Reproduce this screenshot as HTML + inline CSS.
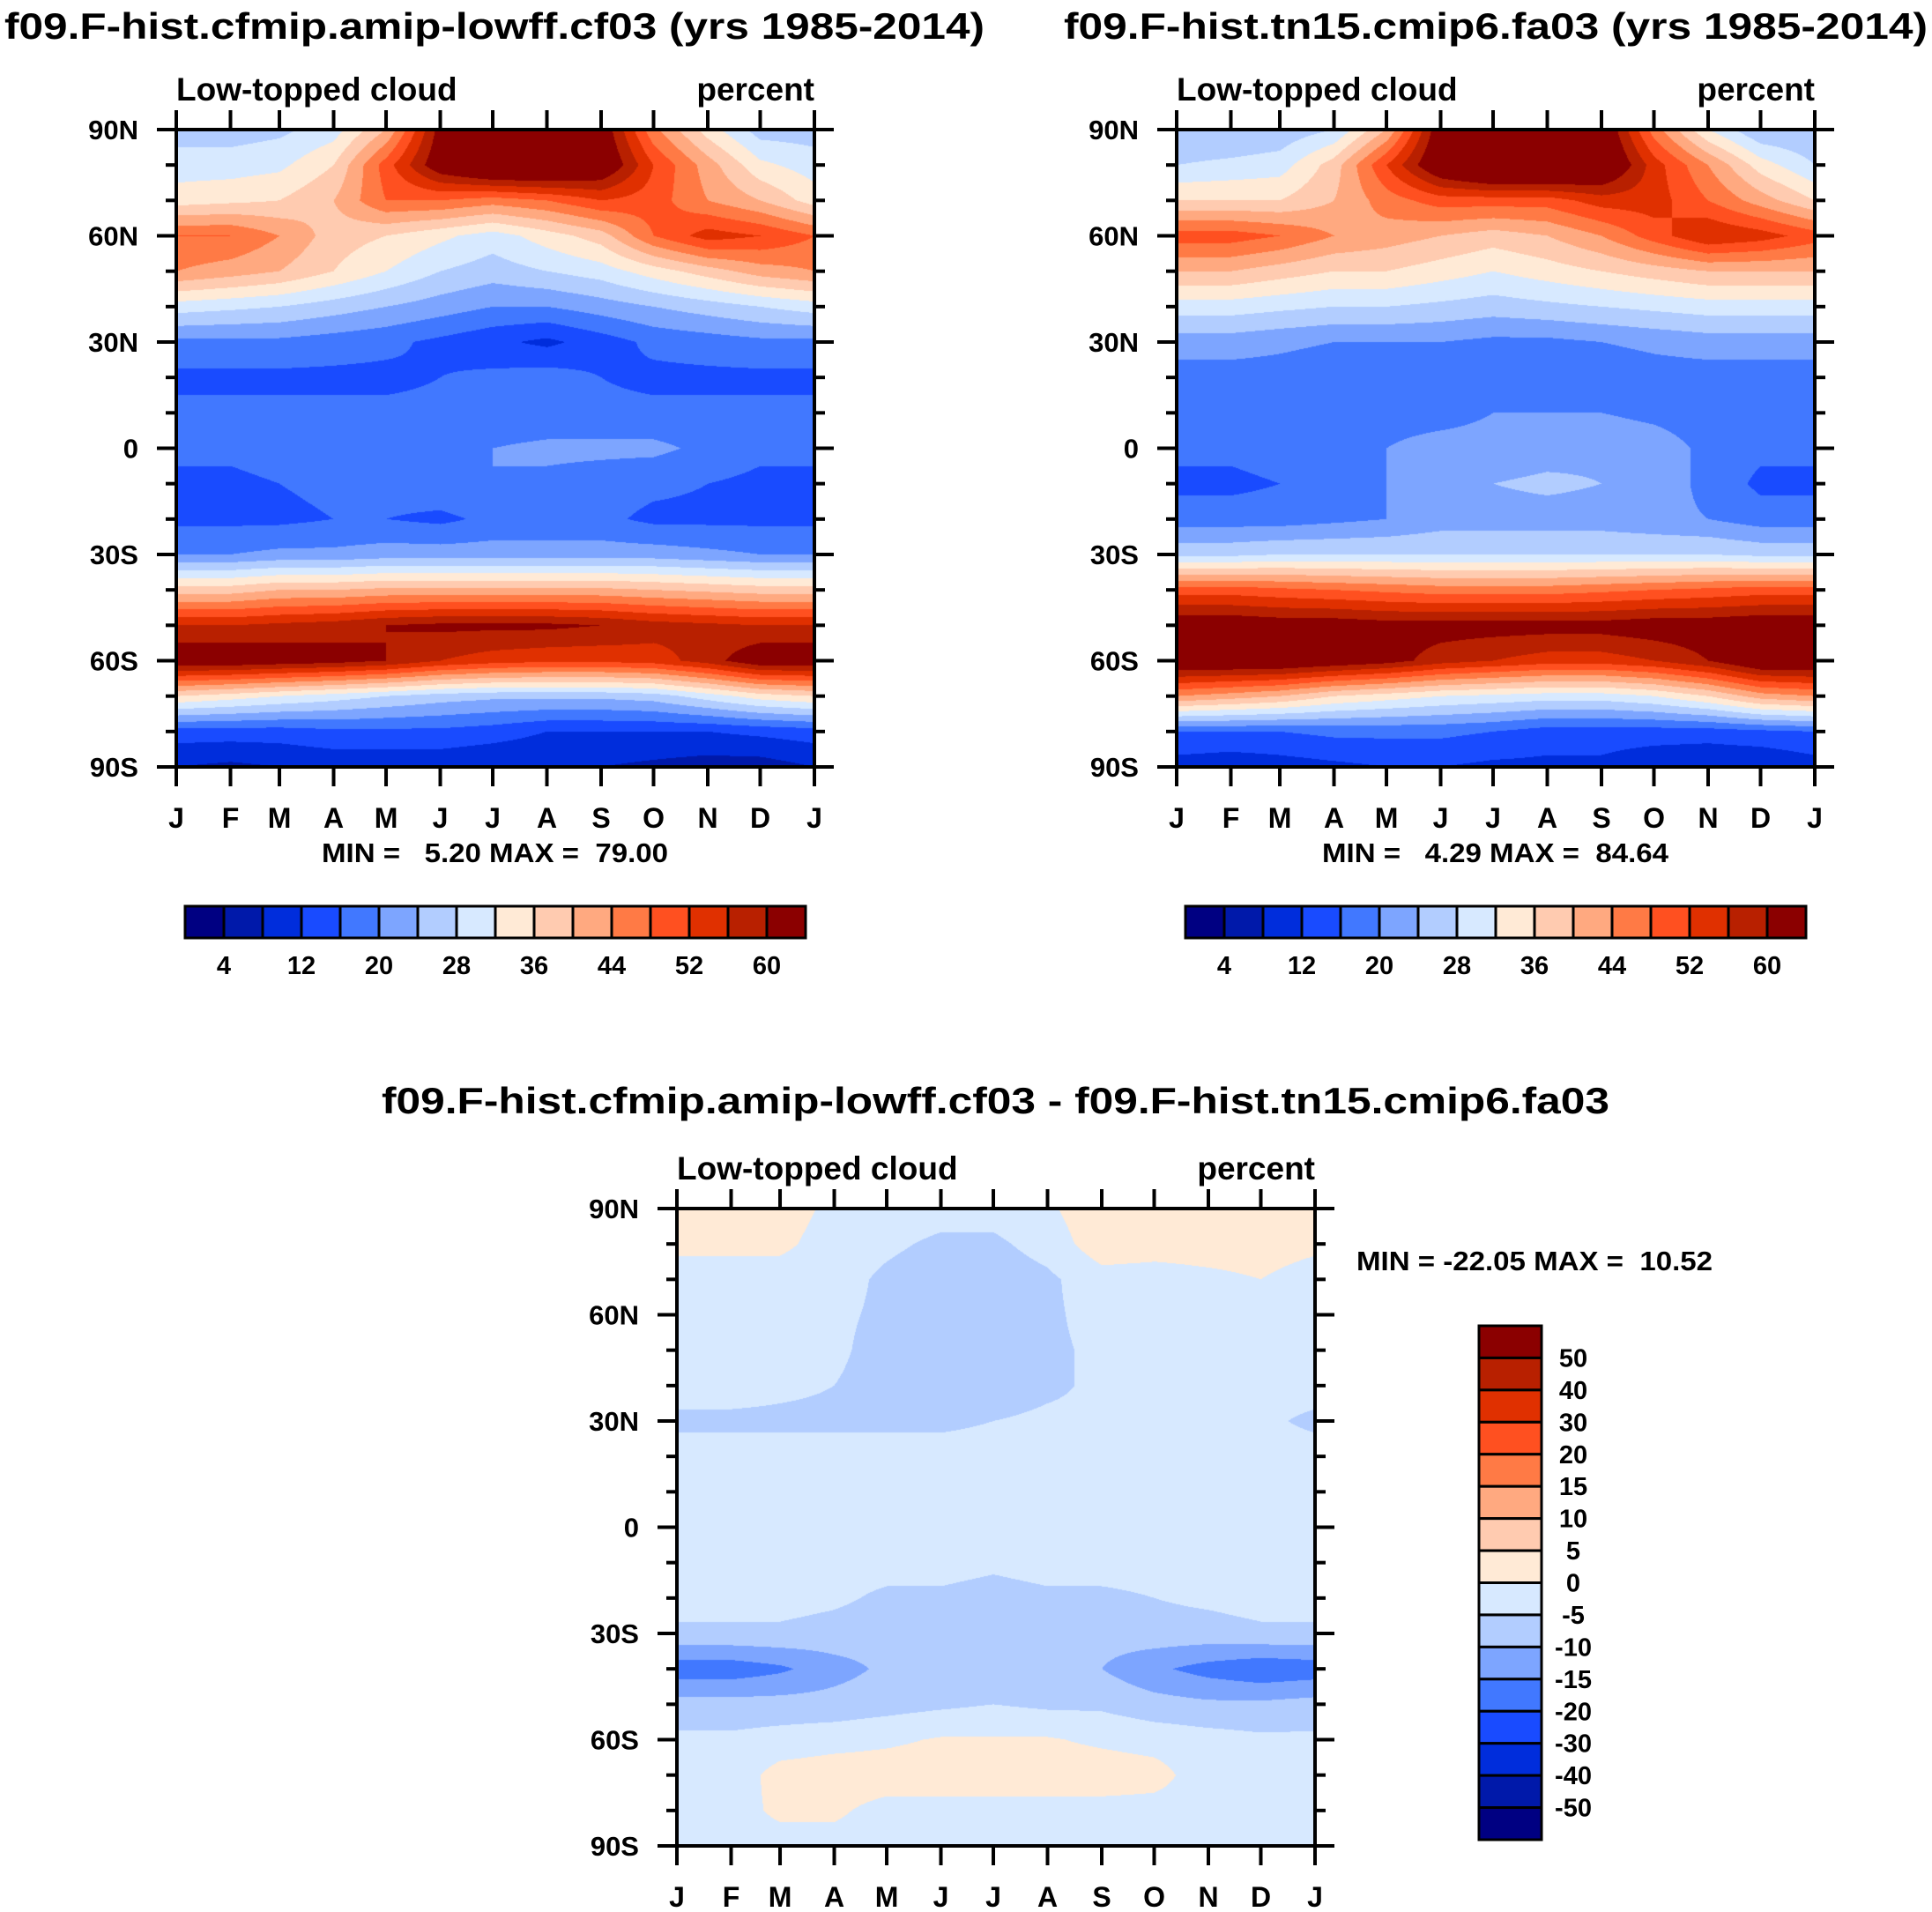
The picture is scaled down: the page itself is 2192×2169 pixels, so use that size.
<!DOCTYPE html>
<html><head><meta charset="utf-8">
<style>
html,body{margin:0;padding:0;background:#fff;}
#root{position:relative;width:2192px;height:2169px;overflow:hidden;}
canvas{position:absolute;}
svg{position:absolute;left:0;top:0;}
text{font-family:"Liberation Sans",sans-serif;font-weight:bold;fill:#000;}
</style></head>
<body>
<div id="root">
<canvas id="c1" width="724" height="723" style="left:200px;top:147px"></canvas>
<canvas id="c2" width="724" height="723" style="left:1335px;top:147px"></canvas>
<canvas id="c3" width="724" height="723" style="left:768px;top:1371px"></canvas>
<svg id="svg" width="2192" height="2169">
<text x="5" y="44" font-size="42" textLength="1112" lengthAdjust="spacingAndGlyphs">f09.F-hist.cfmip.amip-lowff.cf03 (yrs 1985-2014)</text>
<text x="1207" y="44" font-size="42" textLength="980" lengthAdjust="spacingAndGlyphs">f09.F-hist.tn15.cmip6.fa03 (yrs 1985-2014)</text>
<text x="433" y="1263" font-size="42" textLength="1393" lengthAdjust="spacingAndGlyphs">f09.F-hist.cfmip.amip-lowff.cf03 - f09.F-hist.tn15.cmip6.fa03</text>
<text x="365" y="978" font-size="31" textLength="393" lengthAdjust="spacingAndGlyphs" xml:space="preserve">MIN =   5.20 MAX =  79.00</text>
<text x="1500" y="978" font-size="31" textLength="393" lengthAdjust="spacingAndGlyphs" xml:space="preserve">MIN =   4.29 MAX =  84.64</text>
<text x="1539" y="1441" font-size="31" textLength="404" lengthAdjust="spacingAndGlyphs" xml:space="preserve">MIN = -22.05 MAX =  10.52</text>
</svg>
</div>
<script>
// ---- data: rows are latitudes 90N..90S (10 deg), columns are months J..J (13 ticks)
const months = ['J','F','M','A','M','J','J','A','S','O','N','D','J'];
const latLabels = ['90N','60N','30N','0','30S','60S','90S'];
const levels1 = [4,8,12,16,20,24,28,32,36,40,44,48,52,56,60];
const levels1Labels = ['4','12','20','28','36','44','52','60'];
const levelsDiff = [-50,-40,-30,-20,-15,-10,-5,0,5,10,15,20,30,40,50];
const cf03 = [
 [26,26,27,30,40,62,64,64,64,45,34,26,26],
 [30,30,31,36,50,64,70,70,66,52,42,33,30],
 [34,35,36,40,48,48,46,48,52,50,44,40,34],
 [48,48,44,38,36,33,30,34,38,48,54,52,48],
 [44,42,40,36,32,28,26,28,30,34,38,42,44],
 [30,29,28,26,24,22,20,20,22,24,26,28,30],
 [19,19,19,18,17,15,13,11,14,17,18,19,19],
 [15,15,15,15,15,16,17,18,16,15,15,15,15],
 [17,17,17,17,17,17,17,17,17,17,17,17,17],
 [17,17,18,18,18,19,20,21,21,21,19,17,17],
 [15,15,16,17,18,19,20,19,18,17,16,15,15],
 [15,15,15,16,16,15,17,17,17,15,15,15,15],
 [20,20,21,21,22,22,22,22,22,22,21,20,20],
 [38,38,40,40,41,41,41,41,41,40,39,38,38],
 [56,56,57,58,60,61,61,61,60,58,57,56,56],
 [64,64,63,62,60,56,54,53,53,54,58,64,64],
 [36,34,32,30,28,26,25,25,25,26,30,34,36],
 [14,14,14,15,15,15,14,12,12,12,12,13,14],
 [8,7,8,9,9,9,8,8,8,7,6,6,8]
];
const fa03 = [
 [24,24,25,28,40,64,68,68,66,46,32,24,24],
 [28,29,30,38,52,66,72,72,68,54,44,34,28],
 [36,36,36,40,46,50,50,50,54,54,48,42,36],
 [50,50,48,44,42,40,38,40,44,50,56,54,50],
 [40,40,38,36,36,34,32,34,36,38,40,40,40],
 [30,30,29,28,28,27,26,27,28,29,30,30,30],
 [22,22,21,20,20,20,19,19,20,21,22,22,22],
 [18,18,18,17,17,16,16,16,17,18,18,18,18],
 [18,18,18,19,19,19,20,20,20,19,18,18,18],
 [17,17,18,19,20,21,21,22,23,22,19,17,17],
 [15,15,16,18,20,22,24,25,24,22,19,15,15],
 [18,18,18,19,20,22,22,22,22,21,20,18,18],
 [27,27,28,28,28,28,28,28,28,28,28,27,27],
 [50,50,49,48,47,46,46,46,47,48,49,50,50],
 [64,64,63,63,62,62,62,62,62,63,63,64,64],
 [66,66,66,64,62,58,56,54,54,56,60,66,66],
 [44,42,40,36,34,32,31,30,30,32,36,42,44],
 [16,16,16,17,17,17,16,14,14,14,14,15,16],
 [10,9,10,11,12,12,11,11,11,9,8,8,10]
];
const diffVals = [
 [2,2,2,-1,-2,-3,-3,-1,4,2,2,2,2],
 [1,1,1,-2,-4,-6,-6,-3,3,2,2,2,1],
 [-2,-2,-2,-3,-6,-8,-8,-6,-2,-2,-1,0,-2],
 [-3,-3,-3,-4,-6,-7,-6,-6,-3,-3,-3,-3,-3],
 [-1,-3,-3,-4,-7,-8,-8,-6,-4,-3,-3,-2,-1],
 [-3,-3,-4,-5,-7,-10,-8,-6,-4,-3,-3,-3,-3],
 [-6,-6,-6,-6,-6,-6,-5,-4,-4,-4,-4,-4,-6],
 [-3,-3,-3,-3,-3,-3,-3,-3,-3,-3,-3,-3,-3],
 [-3,-3,-3,-3,-3,-3,-3,-3,-3,-3,-3,-3,-3],
 [-3,-3,-3,-3,-3,-3,-3,-3,-3,-3,-3,-3,-3],
 [-3,-3,-3,-3,-3,-3,-4,-3,-3,-3,-3,-3,-3],
 [-3,-3,-3,-4,-6,-6,-7,-6,-6,-5,-4,-3,-3],
 [-6,-6,-6,-7,-8,-8,-8,-8,-8,-7,-7,-6,-6],
 [-18,-18,-16,-12,-9,-8,-8,-8,-10,-14,-17,-19,-18],
 [-8,-8,-8,-8,-7,-6,-5,-6,-6,-8,-9,-9,-8],
 [-4,-4,-3,-2,-1,0.5,0.5,0.5,-1,-2,-3,-4,-4],
 [-3,-3,2,3,3,3,3,3,3,2,-3,-3,-3],
 [-4,-2,1,1,-2,-2,-2,-2,-2,-2,-2,-4,-4],
 [-2,-2,-2,-2,-3,-5,-3,-2,-2,-2,-2,-2,-2]
];
const palette = ['#000082','#0019aa','#002ddc','#194bff','#4178ff','#7da5ff','#b2cdff','#d7e9ff',
 '#ffead6','#ffcbb0','#ffa980','#ff7a45','#ff5020','#e03000','#b82000','#8b0000'];

const days = [0,31,59,90,120,151,181,212,243,273,304,334,365];
const NS='http://www.w3.org/2000/svg';
const svg=document.getElementById('svg');

function hexRgb(h){return [parseInt(h.substr(1,2),16),parseInt(h.substr(3,2),16),parseInt(h.substr(5,2),16)];}
const pal = palette.map(hexRgb);

function xFrac(col){return days[col]/365;}
function drawField(id,grid,levels){
  const cv=document.getElementById(id),ctx=cv.getContext('2d');
  const W=cv.width,H=cv.height,img=ctx.createImageData(W,H);
  const nr=grid.length;
  for(let px=0;px<W;px++){
    const d=(px+0.5)/W*365;
    let c=0; while(c<11 && days[c+1]<d) c++;
    const tx=(d-days[c])/(days[c+1]-days[c]);
    for(let py=0;py<H;py++){
      const fy=(py+0.5)/H*(nr-1);
      const r=Math.min(nr-2,Math.floor(fy)),ty=fy-r;
      const v=(grid[r][c]*(1-tx)+grid[r][c+1]*tx)*(1-ty)+(grid[r+1][c]*(1-tx)+grid[r+1][c+1]*tx)*ty;
      let k=0; while(k<levels.length && v>=levels[k]) k++;
      const col=pal[k],o=(py*W+px)*4;
      img.data[o]=col[0];img.data[o+1]=col[1];img.data[o+2]=col[2];img.data[o+3]=255;
    }
  }
  ctx.putImageData(img,0,0);
}
function line(x1,y1,x2,y2,w,name){
  const l=document.createElementNS(NS,'line');
  l.setAttribute('x1',x1);l.setAttribute('y1',y1);l.setAttribute('x2',x2);l.setAttribute('y2',y2);
  l.setAttribute('stroke','#000');l.setAttribute('stroke-width',w);
  
  
  svg.appendChild(l);
}
function text(x,y,s,size,anchor,name){
  const t=document.createElementNS(NS,'text');
  t.setAttribute('x',x);t.setAttribute('y',y);t.setAttribute('font-size',size);
  t.setAttribute('text-anchor',anchor);t.textContent=s;
  
  
  svg.appendChild(t);
}
function rect(x,y,w,h,fill,name){
  const r=document.createElementNS(NS,'rect');
  r.setAttribute('x',x);r.setAttribute('y',y);r.setAttribute('width',w);r.setAttribute('height',h);
  r.setAttribute('fill',fill);r.setAttribute('stroke','#000');r.setAttribute('stroke-width',3);
  
  
  svg.appendChild(r);
}
function axes(x0,y0,W,H,p){
  const x1=x0+W,y1=y0+H;
  const b=document.createElementNS(NS,'rect');
  b.setAttribute('x',x0);b.setAttribute('y',y0);b.setAttribute('width',W);b.setAttribute('height',H);
  b.setAttribute('fill','none');b.setAttribute('stroke','#000');b.setAttribute('stroke-width',4);
  
  
  svg.appendChild(b);
  for(let i=0;i<13;i++){
    const x=x0+xFrac(i)*W;
    line(x,y0,x,y0-22,4,p+'-x-tick-top');
    line(x,y1,x,y1+22,4,p+'-x-tick-bottom');
    text(x,y1+69,months[i],32,'middle',p+'-month-label');
  }
  for(let i=0;i<=18;i++){
    const y=y0+i/18*H, major=i%3===0, L=major?22:12;
    line(x0,y,x0-L,y,4,p+'-y-tick-left');
    line(x1,y,x1+L,y,4,p+'-y-tick-right');
    if(major) text(x0-43,y+11,latLabels[i/3],31,'end',p+'-lat-label');
  }
  text(x0,y0-33,'Low-topped cloud',37,'start',p+'-left-subtitle');
  text(x1,y0-33,'percent',37,'end',p+'-units-label');
}
function hbar(x0,y0,p){
  for(let k=0;k<16;k++) rect(x0+k*44,y0,44,36,palette[k],p+'-colorbar-box');
  for(let i=0;i<levels1Labels.length;i++) text(x0+(2*i+1)*44,y0+77,levels1Labels[i],29,'middle',p+'-colorbar-label');
}
function vbar(x0,y0){
  const h=583/16;
  for(let k=0;k<16;k++) rect(x0,y0+k*h,71,h,palette[15-k],'diff-colorbar-box');
  for(let i=0;i<levelsDiff.length;i++){
    const v=levelsDiff[levelsDiff.length-1-i];
    text(x0+107,y0+(i+1)*h+10,String(v),29,'middle','diff-colorbar-label');
  }
}
drawField('c1',cf03,levels1);
drawField('c2',fa03,levels1);
drawField('c3',diffVals,levelsDiff);
axes(200,147,724,723,'panel1');
axes(1335,147,724,723,'panel2');
axes(768,1371,724,723,'diff');
hbar(210,1028,'panel1');
hbar(1345,1028,'panel2');
vbar(1678,1504);
</script>
</body></html>
